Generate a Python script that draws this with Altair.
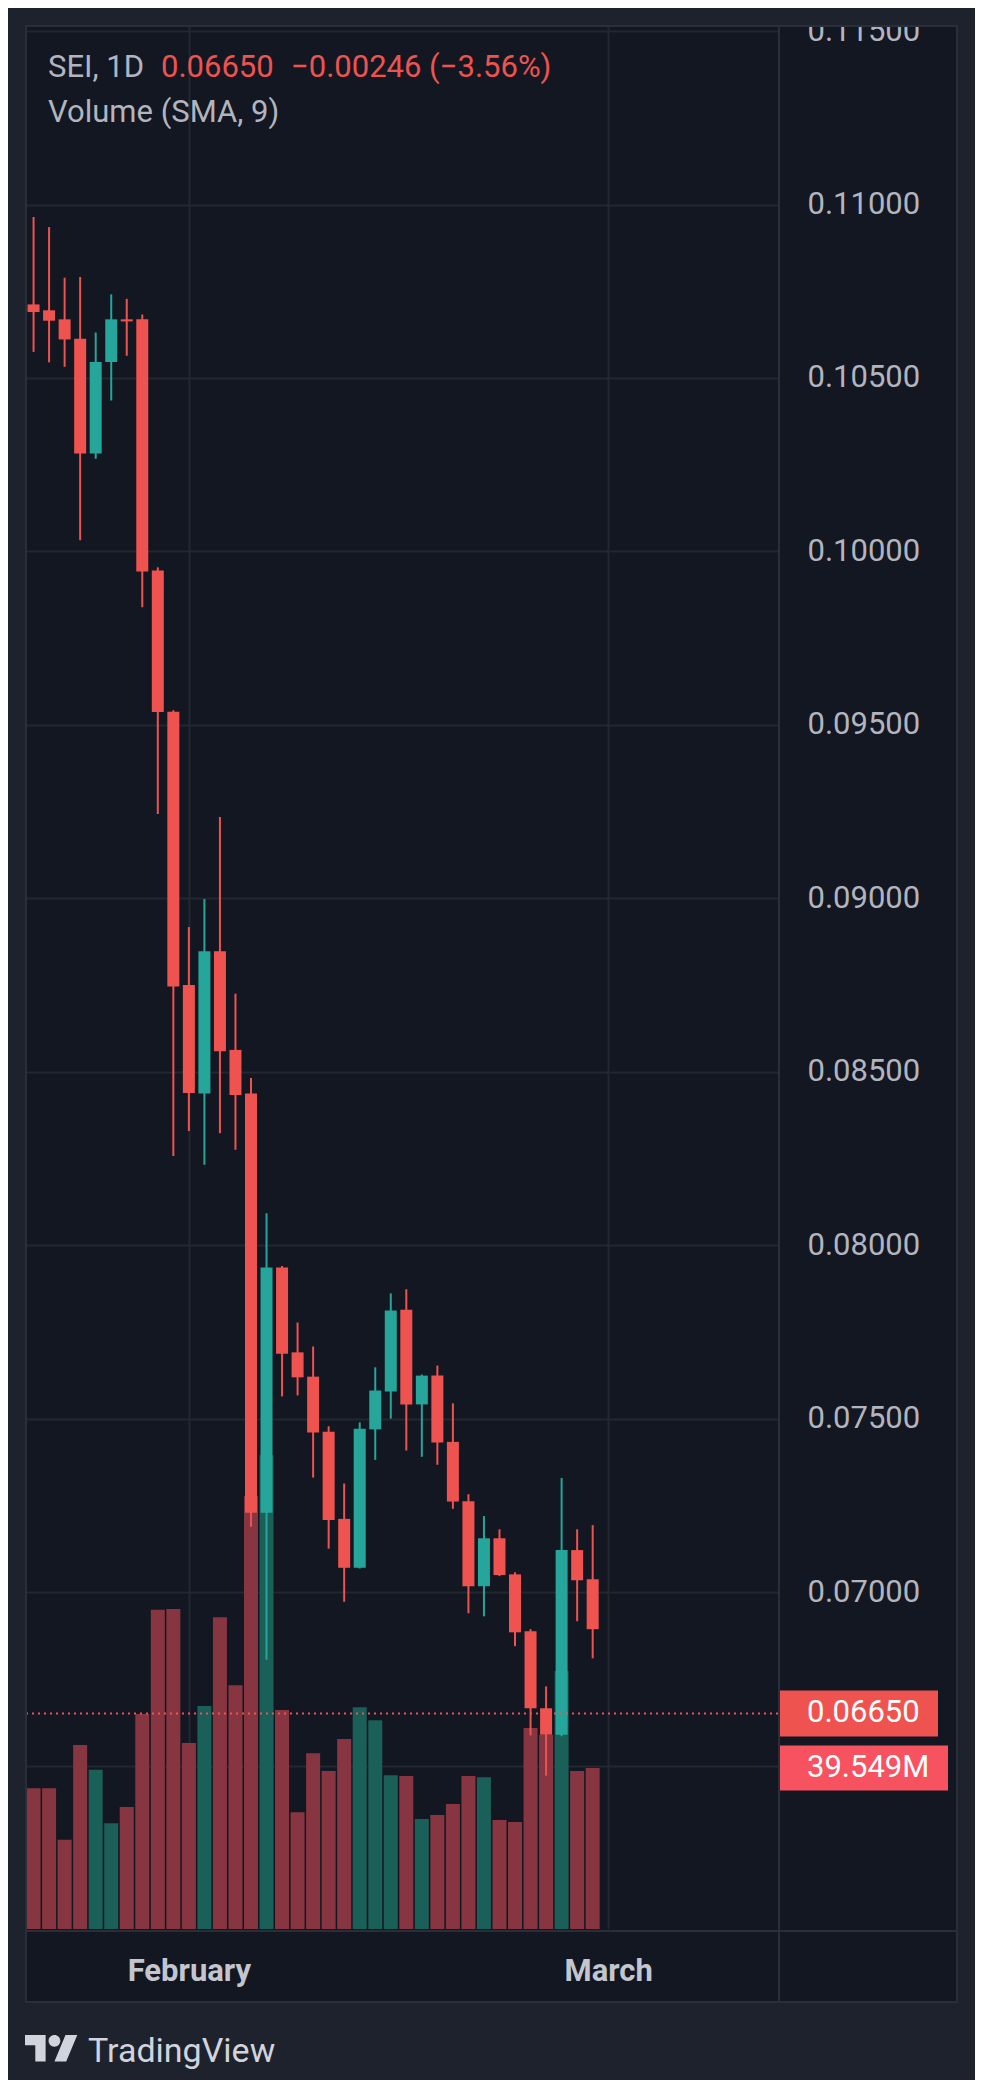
import altair as alt
import pandas as pd

# ---------------- data ----------------
opens = [0.10712, 0.10695, 0.10669, 0.10613, 0.10282, 0.10546, 0.10669, 0.10669, 0.09945, 0.09538,
         0.08750, 0.08437, 0.08847, 0.08563, 0.08437, 0.07229, 0.07936, 0.07691, 0.07621, 0.07462,
         0.07211, 0.07070, 0.07469, 0.07578, 0.07814, 0.07541, 0.07624, 0.07433, 0.07262, 0.07017,
         0.07155, 0.07051, 0.06887, 0.06665, 0.06589, 0.07121, 0.07037]
highs = [0.10964, 0.10935, 0.10789, 0.10791, 0.10631, 0.10741, 0.10728, 0.10683, 0.09954, 0.09542,
         0.08917, 0.08998, 0.09234, 0.08725, 0.08482, 0.08092, 0.07940, 0.07777, 0.07708, 0.07478,
         0.07313, 0.07489, 0.07648, 0.07861, 0.07873, 0.07627, 0.07653, 0.07544, 0.07282, 0.07219,
         0.07181, 0.07057, 0.06893, 0.06728, 0.07329, 0.07181, 0.07193]
lows = [0.10575, 0.10545, 0.10532, 0.10032, 0.10267, 0.10435, 0.10564, 0.09839, 0.09243, 0.08257,
        0.08329, 0.08232, 0.08323, 0.08275, 0.07188, 0.06805, 0.07564, 0.07567, 0.07330, 0.07125,
        0.06972, 0.07068, 0.07381, 0.07500, 0.07408, 0.07390, 0.07367, 0.07240, 0.06939, 0.06930,
        0.07046, 0.06844, 0.06587, 0.06471, 0.06584, 0.06916, 0.06809]
closes = [0.10690, 0.10665, 0.10611, 0.10282, 0.10546, 0.10669, 0.10663, 0.09942, 0.09537, 0.08746,
          0.08439, 0.08847, 0.08559, 0.08433, 0.07229, 0.07936, 0.07687, 0.07619, 0.07460, 0.07208,
          0.07070, 0.07471, 0.07581, 0.07812, 0.07541, 0.07624, 0.07431, 0.07261, 0.07017, 0.07155,
          0.07049, 0.06884, 0.06665, 0.06589, 0.07121, 0.07034, 0.06893]
volumes_m = [34.6, 34.6, 21.9, 45.2, 39.1, 26.0, 30.0, 52.8, 78.4, 78.6,
             45.7, 54.8, 76.6, 59.9, 106.4, 116.4, 53.8, 28.7, 43.2, 38.8,
             46.7, 54.5, 51.3, 37.8, 37.6, 27.0, 28.0, 30.7, 37.6, 37.3,
             26.8, 26.3, 49.4, 47.7, 63.4, 38.8, 39.549]

time_tick_index = [10, 37]
time_tick_labels = ["February", "March"]
price_ticks = [0.065, 0.070, 0.075, 0.080, 0.085, 0.090, 0.095, 0.100, 0.105, 0.110, 0.115]
hidden_price_labels = [0.065]   # covered by the volume tag in the reference

symbol_label = "SEI, 1D"
last_price = 0.06650
price_change = -0.00246
price_change_pct = -3.56
last_volume_m = 39.549
indicator_label = "Volume (SMA, 9)"
brand_label = "TradingView"

# ---------------- styles ----------------
UP = "#26A69A"
DOWN = "#EF5350"
VOL_UP = "#1B5F59"
VOL_DOWN = "#873641"
VOL_TAG = "#F7525F"
PANE = "#131722"
OUTER = "#1E222D"
GRID = "#232731"
BORDER = "#2A2E39"
TEXT = "#B2B5BE"
BRAND = "#D1D4DC"
FONT = "Roboto"

W, H = 753, 1903

df = pd.DataFrame({
    "i": list(range(len(opens))),
    "open": opens, "high": highs, "low": lows, "close": closes,
    "vol": volumes_m,
})

x_scale = alt.Scale(domain=[-0.165, 47.675], nice=False, zero=False)
price_scale = alt.Scale(domain=[0.060287, 0.115146], nice=False, zero=False)
vol_scale = alt.Scale(domain=[0, 467.5], nice=False, zero=False)

label_expr = " : ".join(
    f"datum.value == {v} ? '{l}'" for v, l in zip(time_tick_index, time_tick_labels)
) + " : ''"

price_label_expr = " : ".join(
    f"abs(datum.value - {v}) < 1e-9 ? ''" for v in hidden_price_labels
) + " : format(datum.value, '.5f')"

x_axis = alt.Axis(values=time_tick_index, labelExpr=label_expr, grid=True, gridColor=GRID,
                  gridWidth=2, domain=False, ticks=False, tickSize=0, labelPadding=51,
                  labelBaseline="alphabetic", labelFont=FONT, labelFontSize=31,
                  labelFontWeight="bold", labelColor="#C3C6CE", labelOverlap=False,
                  labelFlush=False, title=None)
y_axis = alt.Axis(orient="right", values=price_ticks, labelExpr=price_label_expr, grid=True,
                  gridColor=GRID, gridWidth=2, domain=False, ticks=False, tickSize=0,
                  labelPadding=28, labelFont=FONT, labelFontSize=31, labelColor=TEXT,
                  labelOverlap=False, labelBound=False, title=None)

X = alt.X("i:Q", scale=x_scale, axis=x_axis)
candle_color = alt.condition(alt.datum.close > alt.datum.open, alt.value(UP), alt.value(DOWN))
vol_color = alt.condition(alt.datum.close > alt.datum.open, alt.value(VOL_UP), alt.value(VOL_DOWN))

vol_bars = alt.Chart(df).mark_bar(size=14, clip=True).encode(
    x=X, y=alt.Y("vol:Q", scale=vol_scale, axis=None), color=vol_color)

wicks = alt.Chart(df).mark_rule(strokeWidth=2, clip=True).encode(
    x=X, y=alt.Y("low:Q", scale=price_scale, axis=y_axis), y2="high:Q", color=candle_color)

bodies = alt.Chart(df).mark_bar(size=12, clip=True).encode(
    x=X, y=alt.Y("open:Q", scale=price_scale, axis=None), y2="close:Q", color=candle_color)

price_df = pd.DataFrame({"price": [last_price]})
price_line = alt.Chart(price_df).mark_rule(strokeDash=[2, 4], strokeWidth=2, color=DOWN).encode(
    x=alt.value(0), x2=alt.value(W), y=alt.Y("price:Q", scale=price_scale, axis=None))
price_tag = alt.Chart(price_df).mark_rule(strokeWidth=46, strokeCap="butt", color=DOWN).encode(
    x=alt.value(W), x2=alt.value(912), y=alt.Y("price:Q", scale=price_scale, axis=None))
price_tag_text = alt.Chart(price_df).mark_text(
    align="left", baseline="middle", font=FONT, fontSize=31, color="#FFFFFF").encode(
    x=alt.value(781), y=alt.Y("price:Q", scale=price_scale, axis=None),
    text=alt.Text("price:Q", format=".5f"))

vol_df = pd.DataFrame({"vol": [last_volume_m]})
vol_tag = alt.Chart(vol_df).mark_rule(strokeWidth=45, strokeCap="butt", color=VOL_TAG).encode(
    x=alt.value(W), x2=alt.value(922), y=alt.Y("vol:Q", scale=vol_scale, axis=None))
vol_tag_text = alt.Chart(vol_df).transform_calculate(
    lbl="format(datum.vol, '.3f') + 'M'").mark_text(
    align="left", baseline="middle", font=FONT, fontSize=31, color="#FFFFFF").encode(
    x=alt.value(781), y=alt.Y("vol:Q", scale=vol_scale, axis=None), text="lbl:N")

one = pd.DataFrame({"k": [0]})


def rect(x, x2, y, y2, color):
    return alt.Chart(one).mark_rect(color=color).encode(
        x=alt.value(x), x2=alt.value(x2), y=alt.value(y), y2=alt.value(y2))


strips = [
    rect(-18, 949, -18, -1, OUTER),
    rect(-18, -1, -18, 2054, OUTER),
    rect(932, 949, -18, 2054, OUTER),
    rect(-18, 949, 1977, 2054, OUTER),
]
frame = alt.Chart(one).mark_rect(fillOpacity=0, stroke=BORDER, strokeWidth=2).encode(
    x=alt.value(0), x2=alt.value(931), y=alt.value(0), y2=alt.value(1976))
sep_v = alt.Chart(one).mark_rule(color=BORDER, strokeWidth=2).encode(
    x=alt.value(W), y=alt.value(0), y2=alt.value(1976))
sep_h = alt.Chart(one).mark_rule(color=BORDER, strokeWidth=2).encode(
    x=alt.value(0), x2=alt.value(931), y=alt.value(1905))


def label(txt, x, y, color, size=31, weight="normal"):
    return alt.Chart(one).mark_text(text=txt, align="left", baseline="alphabetic", font=FONT,
                                    fontSize=size, fontWeight=weight, color=color).encode(
        x=alt.value(x), y=alt.value(y))


def fmt_signed(v, digits):
    s = f"{abs(v):.{digits}f}"
    return ("\u2212" + s) if v < 0 else ("+" + s)


header = [
    label(symbol_label, 22, 51, TEXT),
    label(f"{last_price:.5f}", 135, 51, DOWN),
    label(f"{fmt_signed(price_change, 5)} ({fmt_signed(price_change_pct, 2)}%)", 265, 51, DOWN),
    label(indicator_label, 22, 96, TEXT),
]

logo_path = ("M-0.2222,0.4444L-0.6111,0.4444L-0.6111,-0.1667L-1,-0.1667L-1,-0.5556L-0.2222,-0.5556Z"
             "M0.5556,0.4444L0.1111,0.4444L0.5278,-0.5556L0.9722,-0.5556Z"
             "M-0.1111,-0.3333A0.2222,0.2222,0,1,0,0.3333,-0.3333"
             "A0.2222,0.2222,0,1,0,-0.1111,-0.3333Z")
logo = alt.Chart(one).mark_point(shape=logo_path, filled=True, fill=BRAND, strokeWidth=0,
                                 size=2809, opacity=1).encode(
    x=alt.value(25.5), y=alt.value(2023.7))
brand = label(brand_label, 62, 2036, BRAND, size=34)

chart = alt.layer(
    vol_bars, wicks, bodies, price_line, price_tag, price_tag_text, vol_tag, vol_tag_text,
    *strips, frame, sep_v, sep_h, *header, logo, brand,
).resolve_scale(y="independent").properties(
    width=W, height=H,
    padding={"left": 18, "top": 18, "right": 196, "bottom": 151},
    autosize=alt.AutoSizeParams(type="none"),
    background=PANE,
).configure_view(stroke=None)

chart.save("out.html", embed_options={"renderer": "svg", "actions": False})
